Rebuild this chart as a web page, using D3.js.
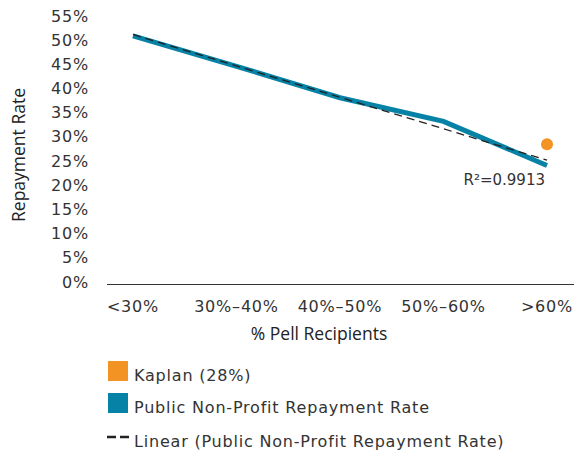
<!DOCTYPE html>
<html>
<head>
<meta charset="utf-8">
<script src="https://cdn.jsdelivr.net/npm/d3@7"></script>
<style>
  body { margin: 0; background: #fff; }
  text { font-family: "DejaVu Sans", sans-serif; fill: #333; }
  text.title { font-family: "Open Sans", sans-serif; fill: #222; }
</style>
</head>
<body>
<svg id="chart" width="574" height="452"></svg>
<script>
// data
var categories = ['<30%', '30%-40%', '40%-50%', '50%-60%', '>60%'];
var publicRates = [0.509, 0.446, 0.381, 0.332, 0.241];
var kaplanRate = 0.285;
var yTicks = [0, 0.05, 0.1, 0.15, 0.2, 0.25, 0.3, 0.35, 0.4, 0.45, 0.5, 0.55];
var legendItems = ['Kaplan (28%)', 'Public Non-Profit Repayment Rate', 'Linear (Public Non-Profit Repayment Rate)'];

var blue = '#0582a5';
var orange = '#f39323';

var svg = d3.select('#chart');

var x = d3.scalePoint()
  .domain(categories)
  .range([133, 547]);

var y = d3.scaleLinear()
  .domain([0, 0.55])
  .range([282, 16]);

// y tick labels (no axis line)
svg.append('g')
  .selectAll('text')
  .data(yTicks)
  .enter()
  .append('text')
  .attr('x', 89)
  .attr('y', function (d) { return y(d); })
  .attr('text-anchor', 'end')
  .attr('dominant-baseline', 'central')
  .attr('font-size', '16px')
  .attr('letter-spacing', '0.8px')
  .text(d3.format('.0%'));

// x axis line
svg.append('line')
  .attr('x1', 107)
  .attr('x2', 574)
  .attr('y1', 284.5)
  .attr('y2', 284.5)
  .attr('stroke', '#333')
  .attr('stroke-width', 1.2);

svg.append('g')
  .selectAll('text')
  .data(categories)
  .enter()
  .append('text')
  .attr('x', function (d) { return x(d); })
  .attr('y', 306)
  .attr('text-anchor', 'middle')
  .attr('dominant-baseline', 'central')
  .attr('font-size', '16px')
  .attr('letter-spacing', '0.8px')
  .text(function (d) { return d.replace('-', '\u2013'); });

// axis titles
svg.append('text')
  .attr('class', 'title')
  .attr('transform', 'translate(18,155) rotate(-90)')
  .attr('text-anchor', 'middle')
  .attr('dominant-baseline', 'central')
  .attr('font-size', '17.5px')
  .text('Repayment Rate');

svg.append('text')
  .attr('class', 'title')
  .attr('x', 319)
  .attr('y', 333)
  .attr('text-anchor', 'middle')
  .attr('dominant-baseline', 'central')
  .attr('font-size', '17.5px')
  .text('% Pell Recipients');

// main series
var line = d3.line()
  .x(function (d, i) { return x(categories[i]); })
  .y(function (d) { return y(d); });

svg.append('path')
  .datum(publicRates)
  .attr('d', line)
  .attr('fill', 'none')
  .attr('stroke', blue)
  .attr('stroke-width', 5);

// linear trend line from least squares fit
var n = publicRates.length;
var xs = d3.range(1, n + 1);
var mx = d3.mean(xs), my = d3.mean(publicRates);
var slope = d3.sum(xs, function (v, i) { return (v - mx) * (publicRates[i] - my); }) /
  d3.sum(xs, function (v) { return (v - mx) * (v - mx); });
var intercept = my - slope * mx;
var trend = xs.map(function (v) { return intercept + slope * v; });

svg.append('path')
  .datum([trend[0], trend[n - 1]])
  .attr('d', d3.line()
    .x(function (d, i) { return x(categories[i * (n - 1)]); })
    .y(function (d) { return y(d); }))
  .attr('fill', 'none')
  .attr('stroke', '#222')
  .attr('stroke-width', 1.3)
  .attr('stroke-dasharray', '8,5');

// kaplan point
svg.append('circle')
  .attr('cx', x(categories[n - 1]))
  .attr('cy', y(kaplanRate))
  .attr('r', 6)
  .attr('fill', orange);

svg.append('text')
  .attr('x', 545)
  .attr('y', 180)
  .attr('text-anchor', 'end')
  .attr('dominant-baseline', 'central')
  .attr('font-size', '15px')
  .text('R\u00b2=0.9913');

// legend
var legend = svg.append('g');
var legendY = [371, 403, 437];

legend.append('rect')
  .attr('x', 108).attr('y', legendY[0] - 10)
  .attr('width', 20).attr('height', 20)
  .attr('fill', orange);

legend.append('rect')
  .attr('x', 108).attr('y', legendY[1] - 10)
  .attr('width', 20).attr('height', 20)
  .attr('fill', blue);

legend.append('line')
  .attr('x1', 107).attr('x2', 133)
  .attr('y1', legendY[2]).attr('y2', legendY[2])
  .attr('stroke', '#222')
  .attr('stroke-width', 2.5)
  .attr('stroke-dasharray', '9,4');

legend.selectAll('text.leg')
  .data(legendItems)
  .enter()
  .append('text')
  .attr('class', 'leg')
  .attr('x', 134)
  .attr('y', function (d, i) { return legendY[i] + 4; })
  .attr('dominant-baseline', 'central')
  .attr('font-size', '16px')
  .attr('letter-spacing', '0.8px')
  .text(function (d) { return d; });
</script>
</body>
</html>
